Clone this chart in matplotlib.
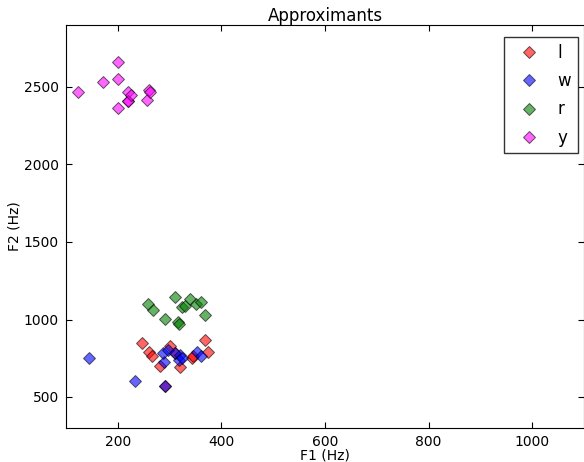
import matplotlib
matplotlib.use("Agg")
import matplotlib.pyplot as plt

# F1 / F2 (Hz)
l_f1 = [246, 260, 266, 281, 301, 321, 343, 346, 369, 374, 291, 310]
l_f2 = [848, 788, 767, 698, 827, 694, 749, 767, 866, 792, 569, 784]

w_f1 = [144, 233, 291, 289, 287, 296, 310, 320, 319, 324, 353, 360]
w_f2 = [752, 605, 569, 728, 784, 801, 784, 771, 737, 749, 792, 762]

r_f1 = [259, 267, 291, 311, 316, 319, 324, 329, 340, 350, 360, 369]
r_f2 = [1098, 1063, 1003, 1143, 986, 973, 1081, 1089, 1132, 1102, 1115, 1031]

y_f1 = [124, 171, 200, 200, 200, 219, 219, 220, 226, 257, 260, 263]
y_f2 = [2468, 2530, 2663, 2552, 2362, 2468, 2410, 2412, 2448, 2414, 2483, 2468]

fig = plt.figure(figsize=(5.84, 4.62), dpi=100)
ax = fig.add_axes([66 / 584, 34 / 462, 518 / 584, 403 / 462])

series = [(l_f1, l_f2, '#ff0000', 'l'), (w_f1, w_f2, '#0000ff', 'w'),
          (r_f1, r_f2, '#008000', 'r'), (y_f1, y_f2, '#ff00ff', 'y')]
for f1, f2, c, lab in series:
    ax.plot(f1, f2, 'D', color=c, markersize=6, markeredgecolor='k',
            markeredgewidth=0.7, alpha=0.6, label=lab)

ax.set_xlim(100, 1100)
ax.set_ylim(300, 2900)
ax.set_xticks([200, 400, 600, 800, 1000])
ax.set_yticks([500, 1000, 1500, 2000, 2500])
ax.tick_params(direction='in', top=True, right=True, labelsize=10, length=4, pad=5)
ax.set_xlabel('F1 (Hz)', fontsize=10, labelpad=0)
ax.set_ylabel('F2 (Hz)', fontsize=10, labelpad=2)
ax.set_title('Approximants', fontsize=12, pad=3)

leg = ax.legend(loc='upper right', numpoints=1, fontsize=12, fancybox=False,
                handlelength=2.3, handletextpad=0.55, borderpad=0.4,
                borderaxespad=0, labelspacing=0.62,
                bbox_to_anchor=(578 / 584, 1 - 37 / 462),
                bbox_transform=fig.transFigure)
leg.get_frame().set_edgecolor('k')

fig.savefig('out.png', dpi=100)
